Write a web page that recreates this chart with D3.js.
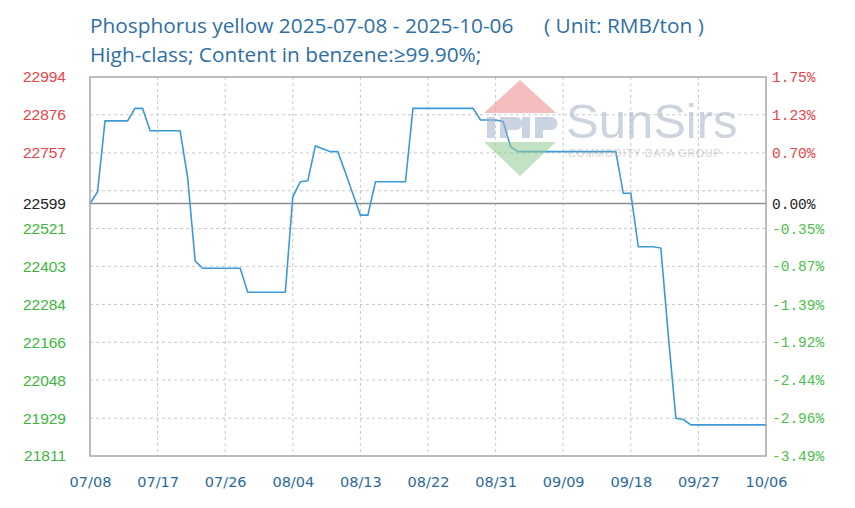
<!DOCTYPE html>
<html>
<head>
<meta charset="utf-8">
<script src="https://cdn.jsdelivr.net/npm/d3@7"></script>
<style>
  body { margin: 0; background: #fff; }
  svg { display: block; }
</style>
</head>
<body>
<div id="chart"></div>
<script>
// chart data
var startDate = "2025-07-08";
var endDate = "2025-10-06";
var basePrice = 22599;

// daily prices, 07/08 .. 10/06
var prices = [
  22599, 22635, 22857, 22857, 22857, 22857, 22896, 22896, 22826, 22826,
  22826, 22826, 22826, 22680, 22420, 22397, 22397, 22397, 22397, 22397,
  22397, 22322, 22322, 22322, 22322, 22322, 22322, 22620, 22667, 22670,
  22779, 22770, 22761, 22761, 22696, 22629, 22563, 22563, 22667, 22667,
  22667, 22667, 22667, 22896, 22896, 22896, 22896, 22896, 22896, 22896,
  22896, 22896, 22860, 22860, 22860, 22855, 22776, 22761, 22761, 22761,
  22761, 22761, 22761, 22761, 22761, 22761, 22761, 22761, 22761, 22761,
  22761, 22631, 22631, 22464, 22464, 22464, 22460, 22186, 21929, 21925,
  21908, 21908, 21908, 21908, 21908, 21908, 21908, 21908, 21908, 21908,
  21908
];

var xTickLabels = ["07/08", "07/17", "07/26", "08/04", "08/13", "08/22", "08/31", "09/09", "09/18", "09/27", "10/06"];

// horizontal grid values (21811 .. 22994)
var gridValues = [21811, 21929, 22048, 22166, 22284, 22403, 22521, 22639, 22757, 22876, 22994];
// labelled values (left price, right percent)
var labelValues = [22994, 22876, 22757, 22599, 22521, 22403, 22284, 22166, 22048, 21929, 21811];
var pctLabels = ["1.75%", "1.23%", "0.70%", "0.00%", "-0.35%", "-0.87%", "-1.39%", "-1.92%", "-2.44%", "-2.96%", "-3.49%"];

var svgWidth = 855;
var svgHeight = 508;
var margin = { top: 77, right: 89, bottom: 52, left: 90 };
var chartWidth = svgWidth - margin.left - margin.right;
var chartHeight = svgHeight - margin.top - margin.bottom;

var parseDay = d3.timeParse("%Y-%m-%d");
var parseTick = d3.timeParse("%Y/%m/%d");
var days = d3.timeDay.range(parseDay(startDate), d3.timeDay.offset(parseDay(endDate), 1));
var series = days.map(function (d, i) { return { date: d, price: prices[i] }; });

var svg = d3.select("#chart").append("svg")
  .attr("width", svgWidth)
  .attr("height", svgHeight);

var chartGroup = svg.append("g")
  .attr("transform", `translate(${margin.left}, ${margin.top})`);

var xScale = d3.scaleTime()
  .domain([parseDay(startDate), parseDay(endDate)])
  .range([0, chartWidth]);

var yScale = d3.scaleLinear()
  .domain([21811, 22994])
  .range([chartHeight, 0]);

function colorFor(v, up, flat, down) {
  if (v > basePrice) return up;
  if (v < basePrice) return down;
  return flat;
}

// grid lines
var xTicks = xTickLabels.map(function (t) { return parseTick("2025/" + t); });

chartGroup.selectAll(".vgrid")
  .data(xTicks.slice(1, -1))
  .enter()
  .append("line")
  .attr("x1", d => xScale(d))
  .attr("x2", d => xScale(d))
  .attr("y1", 0)
  .attr("y2", chartHeight)
  .attr("stroke", "#c8c8c8")
  .attr("stroke-dasharray", "3,3");

chartGroup.selectAll(".hgrid")
  .data(gridValues.slice(1, -1))
  .enter()
  .append("line")
  .attr("x1", 0)
  .attr("x2", chartWidth)
  .attr("y1", d => yScale(d))
  .attr("y2", d => yScale(d))
  .attr("stroke", "#c8c8c8")
  .attr("stroke-dasharray", "3,3");

// base line
chartGroup.append("line")
  .attr("x1", 0)
  .attr("x2", chartWidth)
  .attr("y1", yScale(basePrice))
  .attr("y2", yScale(basePrice))
  .attr("stroke", "#8c8c8c")
  .attr("stroke-width", 1.5);

// watermark
var wm = svg.append("g").attr("opacity", 0.55);
wm.append("path")
  .attr("d", "M520,80 L556,113 L484,113 Z")
  .attr("fill", "#ec8a8a");
wm.append("path")
  .attr("d", "M484,142 L556,142 L520,176 Z")
  .attr("fill", "#93cc93");
wm.append("rect").attr("x", 487).attr("y", 117).attr("width", 8).attr("height", 21).attr("fill", "#9fb0cc");
wm.append("path")
  .attr("d", "M500,117 h16 a6,6 0 0 1 0,13 h-8 v8 h-8 Z")
  .attr("fill", "#9fb0cc");
wm.append("rect").attr("x", 522).attr("y", 117).attr("width", 8).attr("height", 21).attr("fill", "#9fb0cc");
wm.append("path")
  .attr("d", "M535,117 h16 a6,6 0 0 1 0,13 h-8 v8 h-8 Z")
  .attr("fill", "#9fb0cc");
wm.append("text")
  .attr("x", 566)
  .attr("y", 138)
  .attr("font-family", "Liberation Sans, Arial, sans-serif")
  .attr("font-size", 49)
  .attr("fill", "#a4b2c8")
  .text("SunSirs");
wm.append("text")
  .attr("x", 568)
  .attr("y", 157)
  .attr("font-family", "Liberation Sans, Arial, sans-serif")
  .attr("font-size", 10.5)
  .attr("letter-spacing", 0.9)
  .attr("fill", "#b0b0b0")
  .text("COMMODITY DATA GROUP");

// price line
var line = d3.line()
  .x(d => xScale(d.date))
  .y(d => yScale(d.price));

chartGroup.append("path")
  .datum(series)
  .attr("d", line)
  .attr("fill", "none")
  .attr("stroke", "#3d9ad6")
  .attr("stroke-width", 1.6);

// border
chartGroup.append("rect")
  .attr("x", 0)
  .attr("y", 0)
  .attr("width", chartWidth)
  .attr("height", chartHeight)
  .attr("fill", "none")
  .attr("stroke", "#a6a6a6")
  .attr("stroke-width", 1.5);

// axes
var leftAxis = d3.axisLeft(yScale)
  .tickValues(labelValues)
  .tickSize(0)
  .tickPadding(24)
  .tickFormat(d3.format("d"));

var leftG = chartGroup.append("g").call(leftAxis);
leftG.select(".domain").remove();
leftG.selectAll("text")
  .attr("font-family", "Liberation Sans, Arial, sans-serif")
  .attr("font-size", 15.5)
  .attr("fill", d => colorFor(d, "#e8444a", "#222", "#3db53d"));

var rightAxis = d3.axisRight(yScale)
  .tickValues(labelValues)
  .tickSize(0)
  .tickPadding(6)
  .tickFormat((d, i) => pctLabels[i]);

var rightG = chartGroup.append("g")
  .attr("transform", `translate(${chartWidth}, 0)`)
  .call(rightAxis);
rightG.select(".domain").remove();
rightG.selectAll("text")
  .attr("font-family", "Liberation Mono, Courier New, monospace")
  .attr("font-size", 14.5)
  .attr("fill", d => colorFor(d, "#e8444a", "#222", "#4cbf4c"));

var bottomAxis = d3.axisBottom(xScale)
  .tickValues(xTicks)
  .tickSize(0)
  .tickPadding(21)
  .tickFormat((d, i) => xTickLabels[i]);

var bottomG = chartGroup.append("g")
  .attr("transform", `translate(0, ${chartHeight})`)
  .call(bottomAxis);
bottomG.select(".domain").remove();
bottomG.selectAll("text")
  .attr("font-family", "DejaVu Sans, Verdana, sans-serif")
  .attr("font-size", 14.5)
  .attr("fill", "#2d6b99");

// titles
var titleFont = "Open Sans, Noto Sans, sans-serif";
svg.append("text")
  .attr("x", 90)
  .attr("y", 33)
  .attr("font-family", titleFont)
  .attr("font-size", 20.8)
  .attr("fill", "#2e6fa5")
  .text("Phosphorus yellow 2025-07-08 - 2025-10-06");

svg.append("text")
  .attr("x", 544)
  .attr("y", 33)
  .attr("font-family", titleFont)
  .attr("font-size", 20.8)
  .attr("fill", "#2e6fa5")
  .text("( Unit: RMB/ton )");

svg.append("text")
  .attr("x", 90)
  .attr("y", 62)
  .attr("font-family", titleFont)
  .attr("font-size", 20.8)
  .attr("fill", "#2e6fa5")
  .text("High-class; Content in benzene:≥99.90%;");
</script>
</body>
</html>
